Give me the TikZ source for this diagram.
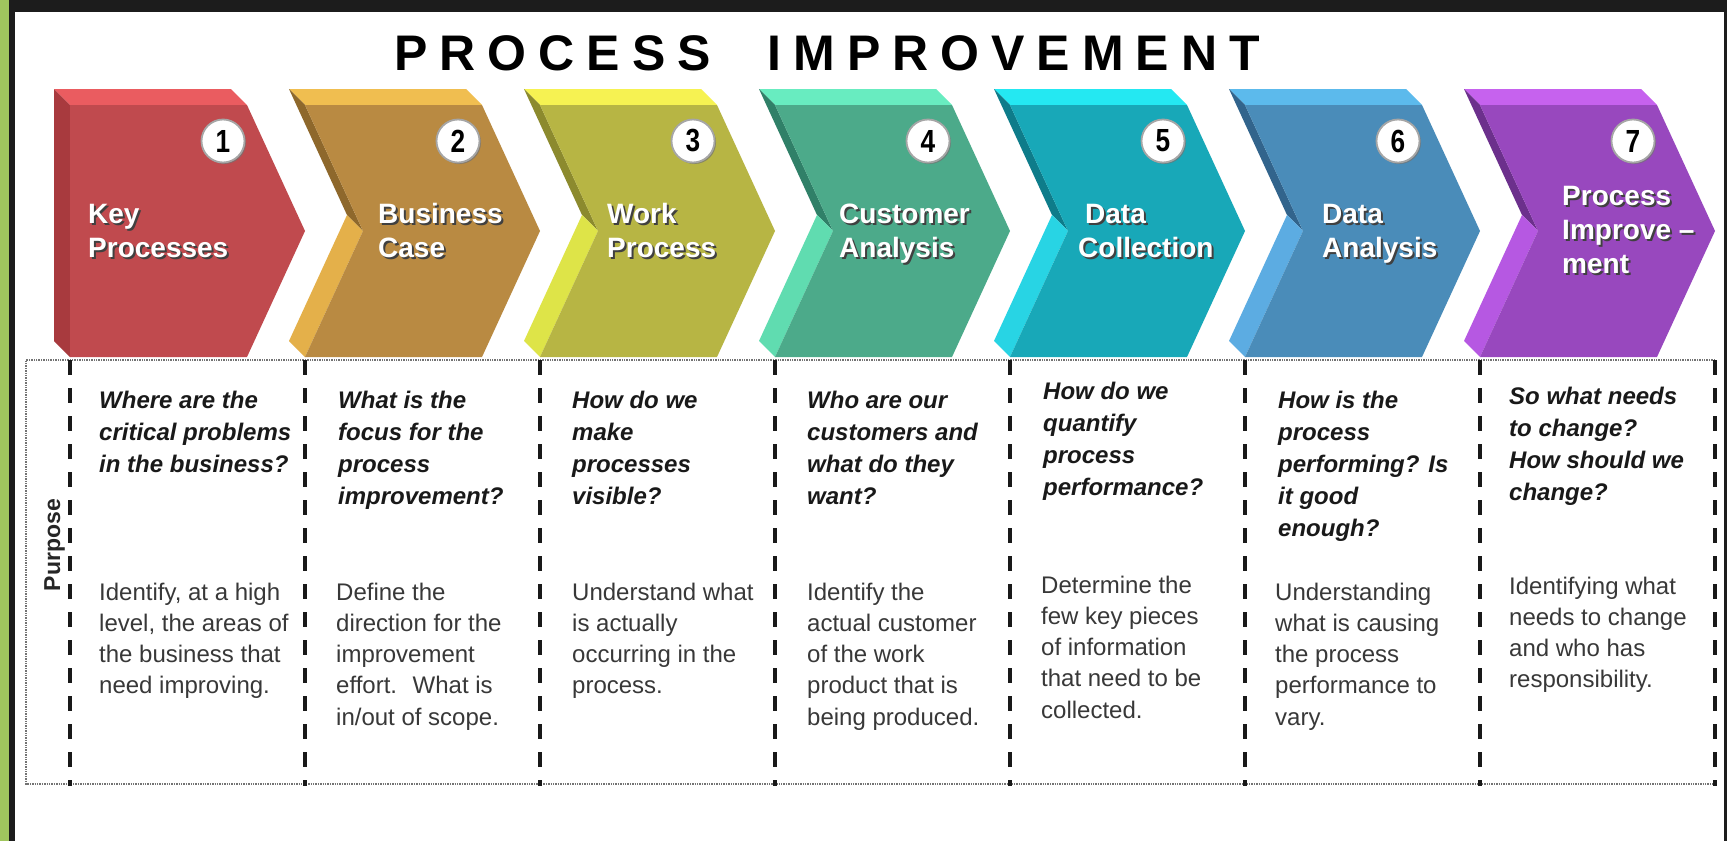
\documentclass[tikz,border=0pt]{standalone}
\usepackage{fontspec}
\setmainfont{Liberation Sans}
\usetikzlibrary{shadows}

% frame
\definecolor{frameGreen}{RGB}{160,198,94}
\definecolor{frameDark}{RGB}{28,28,28}
% chevron colours: face / top face / light side / dark side
\definecolor{c1face}{RGB}{192,74,78}
\definecolor{c1top}{RGB}{234,92,96}
\definecolor{c1side}{RGB}{168,58,62}
\definecolor{c2face}{RGB}{185,138,66}
\definecolor{c2top}{RGB}{240,190,80}
\definecolor{c2lite}{RGB}{228,176,74}
\definecolor{c2dark}{RGB}{142,104,44}
\definecolor{c3face}{RGB}{183,181,68}
\definecolor{c3top}{RGB}{246,242,82}
\definecolor{c3lite}{RGB}{222,228,72}
\definecolor{c3dark}{RGB}{140,138,46}
\definecolor{c4face}{RGB}{76,170,138}
\definecolor{c4top}{RGB}{104,236,192}
\definecolor{c4lite}{RGB}{96,220,176}
\definecolor{c4dark}{RGB}{48,128,104}
\definecolor{c5face}{RGB}{24,168,184}
\definecolor{c5top}{RGB}{36,232,242}
\definecolor{c5lite}{RGB}{40,212,228}
\definecolor{c5dark}{RGB}{14,124,138}
\definecolor{c6face}{RGB}{74,140,185}
\definecolor{c6top}{RGB}{92,186,236}
\definecolor{c6lite}{RGB}{92,172,226}
\definecolor{c6dark}{RGB}{50,100,140}
\definecolor{c7face}{RGB}{152,72,190}
\definecolor{c7top}{RGB}{198,98,238}
\definecolor{c7lite}{RGB}{182,88,226}
\definecolor{c7dark}{RGB}{108,48,140}

% multi-line text whose reference point is the first baseline
\newcommand\stack[1]{\begin{tabular}[t]{@{}l@{}}#1\end{tabular}}

% letter-spaced word
\makeatletter
\newcommand\trackletters[2]{\@tfor\tl@ch:=#2\do{\tl@ch\kern#1}}
\makeatother

% white chevron caption with a dark drop shadow
\newcommand\chevlabel[3]{%
  \node[lbl, text=black!75, xshift=2pt, yshift=-2pt] (#1s) at #2 {\stack{#3}};
  \node[lbl] (#1) at #2 {\stack{#3}};
}

\begin{document}
\begin{tikzpicture}[x=1pt, y=-1pt,
  lbl/.style={anchor=base west, inner sep=0pt, text=white,
              font=\bfseries\fontsize{28}{34}\selectfont},
  qtext/.style={anchor=base west, inner sep=0pt, text=black!90,
              font=\bfseries\itshape\fontsize{24}{32}\selectfont},
  btext/.style={anchor=base west, inner sep=0pt, text=black!78,
              font=\fontsize{24}{31.3}\selectfont},
  numcirc/.style={circle, fill=white, draw=black!35, line width=1.8pt,
              minimum size=43pt, inner sep=0pt,
              font=\bfseries\fontsize{32}{34}\selectfont,
              drop shadow={shadow xshift=1.5pt, shadow yshift=-1.5pt,
                           fill=black!55, opacity=0.7}},
  divider/.style={line width=3.4pt, black!90, dash pattern=on 15pt off 13pt},
  boxline/.style={line width=1.4pt, black!55, densely dotted}]

\useasboundingbox (0,0) rectangle (1727,841);
\fill[white] (0,0) rectangle (1727,841);

% outer frame
\fill[frameGreen] (0,0) rectangle (9,841);
\fill[frameDark] (9,0) rectangle (15,841);
\fill[frameDark] (9,0) rectangle (1727,12);
\fill[frameDark] (1724,0) rectangle (1727,841);

% title
\node[anchor=base west, inner sep=0pt, font=\bfseries\fontsize{50}{60}\selectfont]
  (title) at (394,70) {\trackletters{12pt}{PROCESS}\hspace{45pt}\trackletters{12pt}{IMPROVEMENT}};

% chevron 1 (no notch on the left)
\fill[c1top] (54,89) -- (231,89) -- (247,105) -- (70,105) -- cycle;
\fill[c1side] (54,89) -- (54,341) -- (70,357) -- (70,105) -- cycle;
\fill[c1face] (70,105) -- (247,105) -- (305,231) -- (247,357) -- (70,357) -- cycle;

% chevrons 2 to 7
\foreach \k/\colA/\colB/\colC/\colD in
   {2/c2face/c2top/c2lite/c2dark, 3/c3face/c3top/c3lite/c3dark,
    4/c4face/c4top/c4lite/c4dark, 5/c5face/c5top/c5lite/c5dark,
    6/c6face/c6top/c6lite/c6dark, 7/c7face/c7top/c7lite/c7dark}{
  \pgfmathsetmacro\chL{70+235*(\k-1)}
  \pgfmathsetmacro\chR{\chL+235}
  \fill[\colB] (\chL-16,89) -- (\chR-74,89) -- (\chR-58,105) -- (\chL,105) -- cycle;
  \fill[\colD] (\chL-16,89) -- (\chL+42,215) -- (\chL+58,231) -- (\chL,105) -- cycle;
  \fill[\colC] (\chL+42,215) -- (\chL-16,341) -- (\chL,357) -- (\chL+58,231) -- cycle;
  \fill[\colA] (\chL,105) -- (\chR-58,105) -- (\chR,231) -- (\chR-58,357)
               -- (\chL,357) -- (\chL+58,231) -- cycle;
}

% step numbers
\foreach \k in {1,...,7}{
  \node[numcirc] (num\k) at (70+235*\k-82,141) {\scalebox{0.82}[1]{\k}};
}

% chevron captions
\chevlabel{lab1}{(88,223)}{Key\\Processes}
\chevlabel{lab2}{(378,223)}{Business\\Case}
\chevlabel{lab3}{(607,223)}{Work\\Process}
\chevlabel{lab4}{(839,223)}{Customer\\Analysis}
\chevlabel{lab5}{(1078,223)}{\hspace*{7pt}Data\\Collection}
\chevlabel{lab6}{(1322,223)}{Data\\Analysis}
\chevlabel{lab7}{(1562,205)}{Process\\Improve –\\ment}

% table frame and column dividers
\draw[boxline] (1715,360) -- (26,360) -- (26,784) -- (1715,784);
\foreach \k in {0,...,7}{
  \draw[divider] (70+235*\k,360) -- (70+235*\k,786);
}

\node[rotate=90, anchor=base, inner sep=0pt, text=black!85,
      font=\bfseries\fontsize{23}{26}\selectfont] (purpose) at (60,545) {Purpose};

% questions
\node[qtext] (q1) at (99,408)   {\stack{Where are the\\critical problems\\in the business?}};
\node[qtext] (q2) at (338,408)  {\stack{What is the\\focus for the\\process\\improvement?}};
\node[qtext] (q3) at (572,408)  {\stack{How do we\\make\\processes\\visible?}};
\node[qtext] (q4) at (807,408)  {\stack{Who are our\\customers and\\what do they\\want?}};
\node[qtext] (q5) at (1043,399) {\stack{How do we\\quantify\\process\\performance?}};
\node[qtext] (q6) at (1278,408) {\stack{How is the\\process\\performing? Is\\it good\\enough?}};
\node[qtext] (q7) at (1509,404) {\stack{So what needs\\to change?\\How should we\\change?}};

% purposes
\node[btext] (b1) at (99,600)   {\stack{Identify, at a high\\level, the areas of\\the business that\\need improving.}};
\node[btext] (b2) at (336,600)  {\stack{Define the\\direction for the\\improvement\\effort.~ What is\\in/out of scope.}};
\node[btext] (b3) at (572,600)  {\stack{Understand what\\is actually\\occurring in the\\process.}};
\node[btext] (b4) at (807,600)  {\stack{Identify the\\actual customer\\of the work\\product that is\\being produced.}};
\node[btext] (b5) at (1041,593) {\stack{Determine the\\few key pieces\\of information\\that need to be\\collected.}};
\node[btext] (b6) at (1275,600) {\stack{Understanding\\what is causing\\the process\\performance to\\vary.}};
\node[btext] (b7) at (1509,594) {\stack{Identifying what\\needs to change\\and who has\\responsibility.}};

\end{tikzpicture}
\end{document}
